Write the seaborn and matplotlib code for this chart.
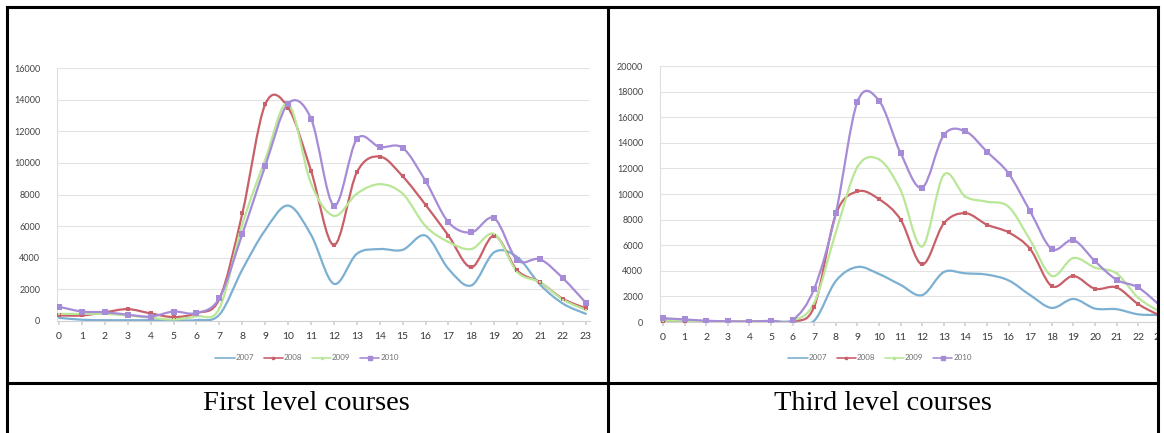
import numpy as np
import pandas as pd
import seaborn as sns
import matplotlib.pyplot as plt
from matplotlib.path import Path
from matplotlib.patches import PathPatch, Rectangle
from matplotlib.lines import Line2D

sns.set_theme(style="white")
plt.rcParams['font.family'] = ['Lato', 'DejaVu Sans']

# hours of the day and the four academic years
hours = list(range(24))
years = ['2007', '2008', '2009', '2010']

# First level courses
first_2007 = [200, 80, 50, 50, 50, 50, 60, 400, 3250, 5750, 7300, 5450, 2350, 4250, 4550, 4500,
              5400, 3300, 2250, 4350, 4050, 2300, 1100, 450]
first_2008 = [350, 350, 550, 750, 480, 250, 500, 1400, 6800, 13700, 13500, 9500, 4800, 9400, 10400, 9150,
              7350, 5400, 3400, 5400, 3200, 2450, 1400, 800]
first_2009 = [450, 450, 450, 350, 200, 100, 300, 800, 6100, 10200, 13750, 8700, 6650, 8050, 8650, 8050,
              6000, 5000, 4550, 5500, 3100, 2450, 1350, 700]
first_2010 = [900, 600, 550, 400, 280, 600, 500, 1450, 5500, 9800, 13750, 12800, 7300, 11500, 11000, 10950,
              8850, 6250, 5600, 6500, 3850, 3900, 2700, 1150]

# Third level courses
third_2007 = [150, 100, 50, 30, 30, 30, 30, 100, 3200, 4300, 3750, 2900, 2100, 3900, 3800, 3700,
              3250, 2100, 1100, 1800, 1050, 1000, 600, 550]
third_2008 = [50, 100, 50, 30, 30, 50, 50, 1200, 8400, 10200, 9600, 8000, 4500, 7700, 8500, 7600,
              7000, 5700, 2800, 3600, 2600, 2700, 1400, 500]
third_2009 = [100, 100, 50, 50, 30, 50, 100, 1500, 7000, 12100, 12700, 10300, 5900, 11500, 9800, 9400,
              9000, 6400, 3600, 5000, 4250, 3800, 1900, 800]
third_2010 = [300, 200, 100, 50, 30, 100, 150, 2600, 8500, 17200, 17300, 13200, 10500, 14600, 14900, 13300,
              11600, 8650, 5700, 6400, 4750, 3300, 2700, 1300]

captions = ['First level courses', 'Third level courses']

colors = {'2007': '#7cb0d2', '2008': '#c8606a', '2009': '#b9e797', '2010': '#a68bd6'}
markers = {'2008': 's', '2009': 's', '2010': 's'}
msizes = {'2008': 5, '2009': 4, '2010': 16}

W, H = 1164, 433


def fx(px):
    return px / W


def fy(py):
    return 1 - py / H


def smooth_path(x, y):
    # Excel-like smoothed line: Catmull-Rom segments as cubic Bezier curves
    x = np.asarray(x, float)
    y = np.asarray(y, float)
    n = len(x)
    verts = [(x[0], y[0])]
    codes = [Path.MOVETO]
    for i in range(n - 1):
        i0 = max(i - 1, 0)
        i3 = min(i + 2, n - 1)
        c1 = (x[i] + (x[i + 1] - x[i0]) / 6, y[i] + (y[i + 1] - y[i0]) / 6)
        c2 = (x[i + 1] - (x[i3] - x[i]) / 6, y[i + 1] - (y[i3] - y[i]) / 6)
        verts += [c1, c2, (x[i + 1], y[i + 1])]
        codes += [Path.CURVE4] * 3
    return Path(verts, codes)


fig = plt.figure(figsize=(W / 100, H / 100), dpi=100)

panels = [
    dict(series=[first_2007, first_2008, first_2009, first_2010], ymax=16000,
         rect=(57, 590, 68, 321), xlim=(-0.09, 23.18), legend_x=307, cap_x=306.5),
    dict(series=[third_2007, third_2008, third_2009, third_2010], ymax=20000,
         rect=(660, 1166, 66, 322), xlim=(-0.14, 23.29), legend_x=880, cap_x=882.5),
]

for p, cap in zip(panels, captions):
    x0, x1, ytop, ybot = p['rect']
    ax = fig.add_axes([fx(x0), fy(ybot), (x1 - x0) / W, (ybot - ytop) / H])
    rows = []
    for yr, vals in zip(years, p['series']):
        ax.add_patch(PathPatch(smooth_path(hours, vals), fill=False, edgecolor=colors[yr],
                               lw=1.6, zorder=3, capstyle='round', joinstyle='round'))
        for h, v in zip(hours, vals):
            rows.append({'hour': h, 'value': v, 'year': yr})
    df = pd.DataFrame(rows)
    for yr in ['2008', '2009', '2010']:
        sns.scatterplot(data=df[df['year'] == yr], x='hour', y='value', color=colors[yr],
                        marker=markers[yr], s=msizes[yr], linewidth=0, ax=ax, zorder=4, legend=False)
    ax.set_xlim(*p['xlim'])
    ax.set_ylim(0, p['ymax'])
    ax.set_xticks(hours)
    ax.set_yticks(range(0, p['ymax'] + 1, 2000))
    ax.set_xlabel('')
    ax.set_ylabel('')
    ax.grid(axis='y', color='#e3e3e3', lw=0.8)
    ax.grid(axis='x', visible=False)
    for s in ['top', 'right']:
        ax.spines[s].set_visible(False)
    ax.spines['left'].set_color('#dedede')
    ax.spines['left'].set_linewidth(0.8)
    ax.spines['bottom'].set_color('#d2d2d2')
    ax.spines['bottom'].set_linewidth(0.8)
    ax.tick_params(axis='x', bottom=True, length=3, color='#d2d2d2', labelsize=7.5,
                   labelcolor='#383838', pad=5)
    ax.tick_params(axis='y', left=False, labelsize=6.5, labelcolor='#444444', pad=6)
    ax.set_facecolor('none')

    handles = [Line2D([], [], color=colors[yr], lw=1.2,
                      marker=(None if yr == '2007' else 's'),
                      markersize=(3 if yr == '2010' else 1.5)) for yr in years]
    fig.legend(handles, years, loc='center', bbox_to_anchor=(fx(p['legend_x']), fy(358)),
               ncol=4, frameon=False, fontsize=5.8, handlelength=2.4, handletextpad=0.1,
               columnspacing=1.2, labelcolor='#707070')

    fig.text(fx(p['cap_x']), fy(403), cap, ha='center', va='center',
             family=['Liberation Serif'], fontsize=20.5, color='black')

# clip area outside the table on the right
fig.add_artist(Rectangle((fx(1159), 0), 1 - fx(1159), 1, transform=fig.transFigure,
                         facecolor='white', edgecolor='none', zorder=9))

# table borders
lw = 2.2
border = dict(color='black', lw=lw, transform=fig.transFigure, zorder=10, solid_capstyle='projecting')
fig.add_artist(Line2D([fx(6.5), fx(1158)], [fy(6.5), fy(6.5)], **border))
fig.add_artist(Line2D([fx(6.5), fx(6.5)], [fy(6.5), 0], **border))
fig.add_artist(Line2D([fx(607.5), fx(607.5)], [fy(6.5), 0], **border))
fig.add_artist(Line2D([fx(1158), fx(1158)], [fy(6.5), 0], **border))
fig.add_artist(Line2D([fx(6.5), fx(1158)], [fy(383), fy(383)], **border))

fig.savefig('out.png', dpi=100, facecolor='white')
